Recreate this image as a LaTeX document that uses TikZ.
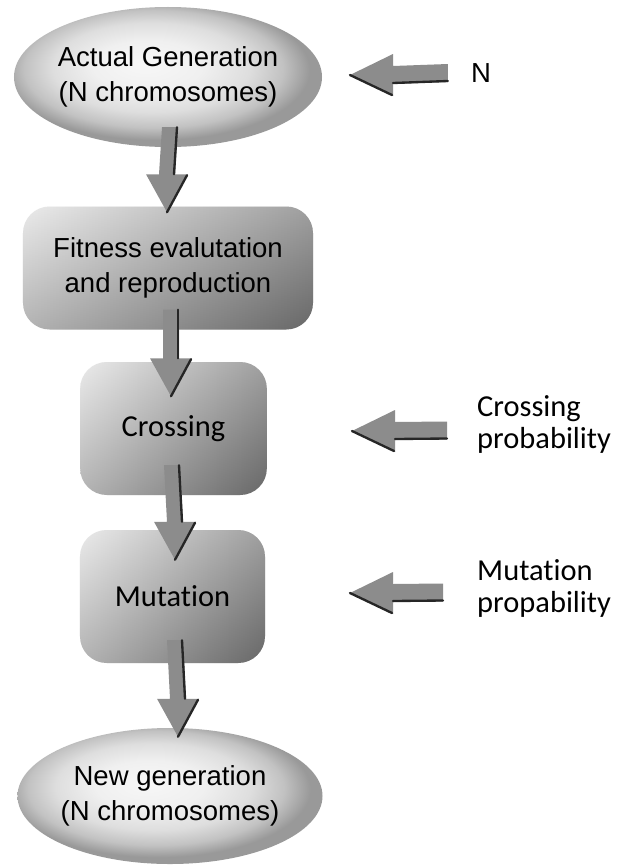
\documentclass[tikz,border=0pt]{standalone}
\usepackage{fontspec}
\setmainfont{Liberation Sans}
\newfontfamily\calib[Ligatures={NoCommon,NoContextual}]{Carlito}
\usetikzlibrary{shapes.geometric,calc}
\pgfdeclareradialshading{ellsh}{\pgfpoint{-4bp}{5bp}}{color(0bp)=(black!3); color(9bp)=(black!6); color(16bp)=(black!13); color(21bp)=(black!24); color(25bp)=(black!40); color(50bp)=(black!40)}
\newcommand\mainsz{\fontsize{23.5}{30}\selectfont}
\newcommand\calsz{\calib\fontsize{26}{28}\selectfont}
\tikzset{
  ell/.style={ellipse, shading=ellsh, inner sep=0pt},
  boxshape/.style={rectangle, rounded corners=0.8cm, inner sep=0pt,
    left color=black!10, middle color=black!22, right color=black!48,
    postaction={top color=white, bottom color=black, fill opacity=0.22}},
  txt/.style={align=center, font=\mainsz, inner sep=0pt},
  sidetxt/.style={align=left, anchor=west, font=\calsz, inner sep=0pt},
  arrfill/.style={fill=black!45},
  arredge/.style={draw=black!85, line width=0.07cm, line cap=round}
}
\newcommand\vblock[2]{%
  \fill[arrfill] ($(#1)+(-8,0)$) -- ($(#2)+(-8,-38)$) -- ($(#2)+(-21,-38)$) -- (#2) -- ($(#2)+(21,-38)$) -- ($(#2)+(8,-38)$) -- ($(#1)+(8,0)$) -- cycle;
  \draw[arredge] ($(#1)+(7,0)$) -- ($(#2)+(7,-38)$);
  \draw[arredge] ($(#2)+(20,-37)$) -- (#2);}
\newcommand\hblock[2]{%
  \fill[arrfill] ($(#1)+(0,-9)$) -- ($(#2)+(43,-9)$) -- ($(#2)+(43,-21)$) -- (#2) -- ($(#2)+(43,21)$) -- ($(#2)+(43,9)$) -- ($(#1)+(0,9)$) -- cycle;
  \draw[arredge] ($(#1)+(0,8)$) -- ($(#2)+(43,8)$);
  \draw[arredge] ($(#2)+(42,20)$) -- (#2);}
\begin{document}
\begin{tikzpicture}[x=0.03cm, y=-0.03cm]
\useasboundingbox[fill=white] (0,0) rectangle (621,866);
% shapes
\node[ell, minimum width=9.24cm, minimum height=4.2cm] (top) at (168,77) {};
\node[txt] (toptxt) at (top.center) {Actual Generation\\(N chromosomes)};
\node[boxshape, minimum width=8.7cm, minimum height=3.69cm, txt] (fit) at (168,268) {Fitness evalutation\\and reproduction};
\node[boxshape, minimum width=5.6cm, minimum height=3.99cm, font=\calsz] (cross) at (173.5,428.5) {Crossing};
\node[boxshape, minimum width=5.55cm, minimum height=3.99cm, font=\calsz] (mut) at (172.5,596.5) {Mutation};
\node[ell, minimum width=9.15cm, minimum height=4.08cm] (new) at (170,796) {};
\node[txt] (newtxt) at (new.center) {New generation\\(N chromosomes)};
% side labels
\node[font=\mainsz, inner sep=0pt] (nlab) at (481,73) {N};
\node[sidetxt] (cplab) at (477,424.5) {Crossing\\probability};
\node[sidetxt] (mplab) at (477,588.5) {Mutation\\propability};
% down arrows
\coordinate (a1s) at ($(top.south)+(2,-20)$);
\coordinate (a1t) at ($(fit.north)+(-1,6)$);
\coordinate (a2s) at ($(fit.south)+(3,-20)$);
\coordinate (a2t) at ($(cross.north)+(-2.5,34.5)$);
\coordinate (a3s) at ($(cross.south)+(-1.5,-30)$);
\coordinate (a3t) at ($(mut.north)+(2.5,30)$);
\coordinate (a4s) at ($(mut.south)+(2.5,-23)$);
\coordinate (a4t) at ($(new.north)+(8,9)$);
\vblock{a1s}{a1t}
\vblock{a2s}{a2t}
\vblock{a3s}{a3t}
\vblock{a4s}{a4t}
% side arrows
\coordinate (h1s) at ($(nlab.west)+(-23,0)$);
\coordinate (h1t) at (350,75);
\coordinate (h2s) at ($(cplab.west)+(-30,6)$);
\coordinate (h2t) at (352,431);
\coordinate (h3s) at ($(mplab.west)+(-34,4)$);
\coordinate (h3t) at (350,593);
\hblock{h1s}{h1t}
\hblock{h2s}{h2t}
\hblock{h3s}{h3t}
\end{tikzpicture}
\end{document}
